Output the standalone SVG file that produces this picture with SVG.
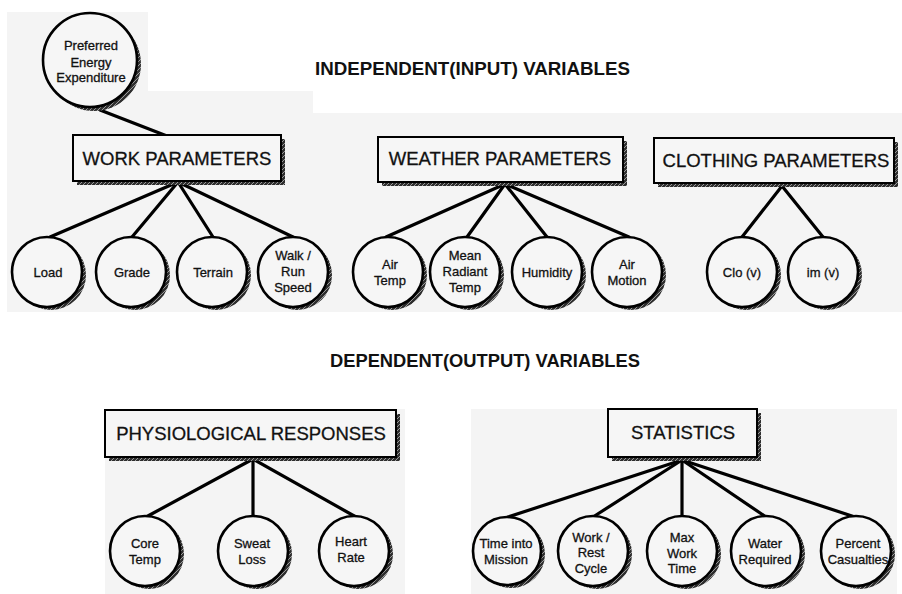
<svg xmlns="http://www.w3.org/2000/svg" width="902" height="594" viewBox="0 0 902 594">
<defs>
<pattern id="hatch" patternUnits="userSpaceOnUse" width="4" height="4">
<rect width="4" height="4" fill="#2e2e2e"/>
<path d="M0,4 L4,0" stroke="#9a9a9a" stroke-width="1"/>
</pattern>
<style>
.bg{fill:#f4f4f4}
.sh{fill:url(#hatch)}
.box{fill:#f6f6f6;stroke:#000;stroke-width:2}
.c{fill:#f6f6f6;stroke:#000;stroke-width:2.6}
.conn line{stroke:#000;stroke-width:3.2;stroke-linecap:round}
text{font-family:"Liberation Sans",Arial,Helvetica,sans-serif;fill:#111;text-anchor:middle}
.l{font-size:13px;stroke:#111;stroke-width:0.3}
.h{font-size:18.5px;stroke:#111;stroke-width:0.3}
.t{font-size:18px;font-weight:bold}
</style>
</defs>
<rect width="902" height="594" fill="#ffffff"/>
<path class="bg" d="M7,12 H148 V91 H313 V113 H902 V312 H7 Z"/>
<rect class="bg" x="105" y="409" width="300" height="185"/>
<rect class="bg" x="471" y="409" width="426" height="185"/>

<text class="t" x="472.5" y="74.5" textLength="315" lengthAdjust="spacingAndGlyphs">INDEPENDENT(INPUT) VARIABLES</text>
<text class="t" x="485" y="366.5" textLength="310" lengthAdjust="spacingAndGlyphs">DEPENDENT(OUTPUT) VARIABLES</text>

<g class="conn">
<line x1="100" y1="110" x2="167" y2="136"/>
<line x1="178" y1="182" x2="50" y2="237"/>
<line x1="178" y1="182" x2="132" y2="237"/>
<line x1="178" y1="182" x2="213" y2="237"/>
<line x1="178" y1="182" x2="293" y2="237"/>
<line x1="505" y1="184" x2="386" y2="237"/>
<line x1="505" y1="184" x2="467" y2="237"/>
<line x1="505" y1="184" x2="547" y2="237"/>
<line x1="505" y1="184" x2="629" y2="237"/>
<line x1="782" y1="186" x2="742" y2="237"/>
<line x1="782" y1="186" x2="823" y2="237"/>
<line x1="253" y1="459" x2="146" y2="517"/>
<line x1="253" y1="459" x2="253" y2="517"/>
<line x1="253" y1="459" x2="356" y2="517"/>
<line x1="682" y1="460" x2="508" y2="517"/>
<line x1="682" y1="460" x2="593" y2="517"/>
<line x1="682" y1="460" x2="682" y2="517"/>
<line x1="682" y1="460" x2="766" y2="517"/>
<line x1="682" y1="460" x2="855" y2="517"/>
</g>

<g id="preferred">
<circle class="sh" cx="94" cy="64" r="47"/>
<circle class="c" cx="90" cy="60" r="47"/>
<text class="l" x="91" y="49.7">Preferred</text>
<text class="l" x="91" y="66.5">Energy</text>
<text class="l" x="91" y="81.7">Expenditure</text>
</g>

<g id="work">
<rect class="sh" x="77" y="139" width="208" height="46"/>
<rect class="box" x="73" y="135" width="208" height="46"/>
<text class="h" x="177" y="164.6">WORK PARAMETERS</text>
</g>
<g id="weather">
<rect class="sh" x="382" y="141" width="245" height="45"/>
<rect class="box" x="378" y="137" width="245" height="45"/>
<text class="h" x="500" y="165">WEATHER PARAMETERS</text>
</g>
<g id="clothing">
<rect class="sh" x="658" y="142" width="240" height="45"/>
<rect class="box" x="654" y="138" width="240" height="45"/>
<text class="h" x="776" y="166.6">CLOTHING PARAMETERS</text>
</g>
<g id="phys">
<rect class="sh" x="109" y="414" width="291" height="47"/>
<rect class="box" x="105" y="410" width="291" height="47"/>
<text class="h" x="251" y="439.6">PHYSIOLOGICAL RESPONSES</text>
</g>
<g id="stats">
<rect class="sh" x="612" y="413" width="149" height="48"/>
<rect class="box" x="608" y="409" width="149" height="48"/>
<text class="h" x="683" y="438.6">STATISTICS</text>
</g>

<g id="load">
<circle class="sh" cx="51" cy="275" r="35"/>
<circle class="c" cx="47" cy="272" r="35"/>
<text class="l" x="48" y="276.7">Load</text>
</g>
<g id="grade">
<circle class="sh" cx="135" cy="275" r="35"/>
<circle class="c" cx="131" cy="272" r="35"/>
<text class="l" x="132" y="276.7">Grade</text>
</g>
<g id="terrain">
<circle class="sh" cx="216" cy="275" r="35"/>
<circle class="c" cx="212" cy="272" r="35"/>
<text class="l" x="213" y="276.7">Terrain</text>
</g>
<g id="walkrun">
<circle class="sh" cx="297" cy="275" r="35"/>
<circle class="c" cx="293" cy="272" r="35"/>
<text class="l" x="293" y="259.7">Walk /</text>
<text class="l" x="293" y="275.7">Run</text>
<text class="l" x="293" y="291.7">Speed</text>
</g>

<g id="airtemp">
<circle class="sh" cx="392" cy="275" r="35"/>
<circle class="c" cx="388" cy="272" r="35"/>
<text class="l" x="390" y="268.7">Air</text>
<text class="l" x="390" y="284.7">Temp</text>
</g>
<g id="mrt">
<circle class="sh" cx="469" cy="275" r="35"/>
<circle class="c" cx="465" cy="272" r="35"/>
<text class="l" x="465" y="259.7">Mean</text>
<text class="l" x="465" y="275.7">Radiant</text>
<text class="l" x="465" y="291.7">Temp</text>
</g>
<g id="humidity">
<circle class="sh" cx="551" cy="275" r="35"/>
<circle class="c" cx="547" cy="272" r="35"/>
<text class="l" x="547" y="276.7">Humidity</text>
</g>
<g id="airmotion">
<circle class="sh" cx="631" cy="275" r="35"/>
<circle class="c" cx="627" cy="272" r="35"/>
<text class="l" x="627" y="268.7">Air</text>
<text class="l" x="627" y="284.7">Motion</text>
</g>

<g id="clo">
<circle class="sh" cx="746" cy="275" r="35"/>
<circle class="c" cx="742" cy="272" r="35"/>
<text class="l" x="742" y="276.7">Clo (v)</text>
</g>
<g id="im">
<circle class="sh" cx="827" cy="275" r="35"/>
<circle class="c" cx="823" cy="272" r="35"/>
<text class="l" x="823" y="276.7">im (v)</text>
</g>

<g id="coretemp">
<circle class="sh" cx="149" cy="554" r="35"/>
<circle class="c" cx="145" cy="551" r="35"/>
<text class="l" x="145" y="547.7">Core</text>
<text class="l" x="145" y="563.7">Temp</text>
</g>
<g id="sweatloss">
<circle class="sh" cx="257" cy="554" r="35"/>
<circle class="c" cx="253" cy="551" r="35"/>
<text class="l" x="252" y="547.7">Sweat</text>
<text class="l" x="252" y="563.7">Loss</text>
</g>
<g id="heartrate">
<circle class="sh" cx="358" cy="554" r="35"/>
<circle class="c" cx="354" cy="551" r="35"/>
<text class="l" x="351" y="545.7">Heart</text>
<text class="l" x="351" y="561.7">Rate</text>
</g>

<g id="timemission">
<circle class="sh" cx="511" cy="554" r="34"/>
<circle class="c" cx="507" cy="551" r="34"/>
<text class="l" x="506" y="547.7">Time into</text>
<text class="l" x="506" y="563.7">Mission</text>
</g>
<g id="workrest">
<circle class="sh" cx="597" cy="554" r="35"/>
<circle class="c" cx="593" cy="551" r="35"/>
<text class="l" x="591" y="541.7">Work /</text>
<text class="l" x="591" y="556.7">Rest</text>
<text class="l" x="591" y="572.7">Cycle</text>
</g>
<g id="maxwork">
<circle class="sh" cx="686" cy="554" r="35"/>
<circle class="c" cx="682" cy="551" r="35"/>
<text class="l" x="682" y="541.7">Max</text>
<text class="l" x="682" y="557.7">Work</text>
<text class="l" x="682" y="572.7">Time</text>
</g>
<g id="water">
<circle class="sh" cx="770" cy="554" r="35"/>
<circle class="c" cx="766" cy="551" r="35"/>
<text class="l" x="765" y="547.7">Water</text>
<text class="l" x="765" y="563.7">Required</text>
</g>
<g id="casualties">
<circle class="sh" cx="860" cy="554" r="35"/>
<circle class="c" cx="856" cy="551" r="35"/>
<text class="l" x="858" y="547.7">Percent</text>
<text class="l" x="858" y="563.7">Casualties</text>
</g>
</svg>
